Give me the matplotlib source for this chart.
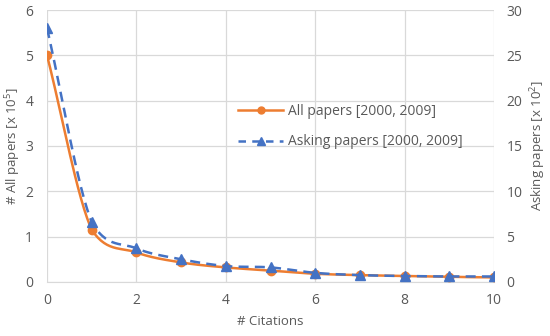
import numpy as np
import matplotlib.pyplot as plt
from matplotlib.lines import Line2D

plt.rcParams['font.family'] = ['Open Sans', 'DejaVu Sans']
plt.rcParams['mathtext.fontset'] = 'custom'
plt.rcParams['mathtext.rm'] = 'Open Sans'

# data
citations = [0, 1, 2, 3, 4, 5, 6, 7, 8, 9, 10]
all_papers = [5.0, 1.15, 0.65, 0.43, 0.32, 0.25, 0.18, 0.15, 0.13, 0.11, 0.10]      # x 10^5
asking_papers = [28.0, 6.6, 3.7, 2.5, 1.75, 1.6, 1.0, 0.75, 0.65, 0.6, 0.6]      # x 10^2

ORANGE = '#ED7D31'
BLUE = '#4472C4'
TEXT = '#595959'
GRID = '#D9D9D9'


def smooth(x, y, n=30):
    """Bezier smoothing like Excel's smoothed lines, control points kept inside each segment."""
    x = np.asarray(x, float)
    y = np.asarray(y, float)
    px = np.concatenate([[2 * x[0] - x[1]], x, [2 * x[-1] - x[-2]]])
    py = np.concatenate([[2 * y[0] - y[1]], y, [2 * y[-1] - y[-2]]])
    xs, ys = [], []
    t = np.linspace(0, 1, n)[:, None]
    for i in range(1, len(px) - 2):
        p0, p1, p2, p3 = (np.array([px[j], py[j]]) for j in range(i - 1, i + 3))
        b1 = p1 + (p2 - p0) / 6
        b2 = p2 - (p3 - p1) / 6
        lo, hi = min(p1[1], p2[1]), max(p1[1], p2[1])
        b1[1] = np.clip(b1[1], lo, hi)
        b2[1] = np.clip(b2[1], lo, hi)
        seg = (1 - t) ** 3 * p1 + 3 * (1 - t) ** 2 * t * b1 + 3 * (1 - t) * t ** 2 * b2 + t ** 3 * p2
        xs.append(seg[:, 0])
        ys.append(seg[:, 1])
    return np.concatenate(xs), np.concatenate(ys)


fig = plt.figure(figsize=(5.5, 3.36), dpi=100)
ax = fig.add_axes([0.0855, 0.161, 0.8127, 0.809])
ax2 = ax.twinx()

sx, sy = smooth(citations, all_papers)
ax.plot(sx, sy, color=ORANGE, lw=1.8, zorder=3)
ax.plot(citations, all_papers, 'o', color=ORANGE, ms=6, zorder=4)

sx2, sy2 = smooth(citations, asking_papers)
ax2.plot(sx2, sy2, color=BLUE, lw=1.8, ls=(0, (4, 2.5)), zorder=3)
ax2.plot(citations, asking_papers, '^', color=BLUE, ms=7.5, zorder=4)

ax.set_xlim(0, 10)
ax.set_ylim(0, 6)
ax2.set_ylim(0, 30)
ax.set_xticks(range(0, 11, 2))
ax.set_yticks(range(0, 7))
ax2.set_yticks(range(0, 31, 5))

ax.grid(True, color=GRID, lw=0.9)
ax.set_axisbelow(True)
for a in (ax, ax2):
    for s in a.spines.values():
        s.set_visible(False)
    a.tick_params(length=0, labelsize=10, labelcolor=TEXT)
ax.tick_params(axis='y', pad=10)
ax.tick_params(axis='x', pad=8)
ax2.tick_params(axis='y', pad=9)
ax.spines['bottom'].set_visible(True)
ax.spines['bottom'].set_color(GRID)

ax.set_xlabel('# Citations', color=TEXT, fontsize=9.5, labelpad=5)
ax.set_ylabel('# All papers [x 10$^5$]', color=TEXT, fontsize=9.5, va='center')
ax2.set_ylabel('Asking papers [x 10$^2$]', color=TEXT, fontsize=9.5, va='center')
ax.yaxis.set_label_coords(-0.075, 0.5)
ax2.yaxis.set_label_coords(1.098, 0.5)

handles = [
    Line2D([], [], color=ORANGE, lw=1.8, marker='o', ms=5),
    Line2D([], [], color=BLUE, lw=1.8, ls=(0, (3, 2.5)), marker='^', ms=6),
]
labels = ['All papers [2000, 2009]', 'Asking papers [2000, 2009]']
leg = ax.legend(handles, labels, loc='upper left', bbox_to_anchor=(0.4, 0.70),
                frameon=False, fontsize=10, labelspacing=1.1, handlelength=3.2,
                handletextpad=0.4)
for t in leg.get_texts():
    t.set_color(TEXT)

fig.savefig('out.png', dpi=100)
